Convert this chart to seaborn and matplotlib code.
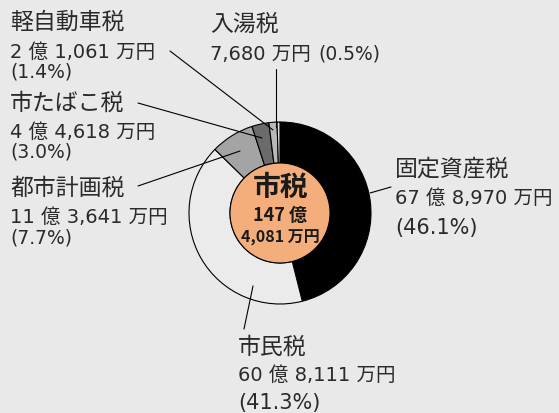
import matplotlib
matplotlib.use('Agg')
import matplotlib.pyplot as plt
import seaborn as sns
from matplotlib.patches import Circle

# ---- data ----
categories = ['固定資産税', '市民税', '都市計画税', '市たばこ税', '軽自動車税', '入湯税']
amounts_man = [678970, 608111, 113641, 44618, 21061, 7680]  # 万円
amount_labels = ['67 億 8,970 万円', '60 億 8,111 万円', '11 億 3,641 万円',
                 '4 億 4,618 万円', '2 億 1,061 万円', '7,680 万円']
percent_labels = ['(46.1%)', '(41.3%)', '(7.7%)', '(3.0%)', '(1.4%)', '(0.5%)']
total_title = '市税'
total_lines = ['147 億', '4,081 万円']

slice_colors = ['#000000', '#ebebeb', '#a4a4a4', '#6b6b6b', '#b9b9b9', '#dcdcdc']

sns.set_theme(style='white')
plt.rcParams['font.family'] = ['DejaVu Sans', 'Noto Sans CJK JP']

W, H = 559, 414
BG = '#e9e9e9'
TXT = '#2a2a2a'
FAM = ['DejaVu Sans', 'Noto Sans CJK JP']
CJK = ['Noto Sans CJK JP', 'DejaVu Sans']

fig = plt.figure(figsize=(W / 100, H / 100), dpi=100)
fig.patch.set_facecolor(BG)
ax = fig.add_axes([0, 0, 1, 1])


def Y(y):
    return H - y


cx, cy = 280, 214
ax.pie(amounts_man, colors=slice_colors, startangle=90, counterclock=False,
       radius=91, center=(cx, Y(cy)),
       wedgeprops=dict(width=41, edgecolor='black', linewidth=0.8))
ax.add_patch(Circle((cx, Y(cy)), 50, facecolor='#f4ae7b', edgecolor='black',
                    linewidth=0.8, zorder=3))
ax.set_xlim(0, W)
ax.set_ylim(0, H)
ax.set_aspect('equal')
ax.axis('off')

# center text
ax.text(cx, Y(188), total_title, ha='center', va='center', fontsize=20,
        fontweight='bold', color='#1a1a1a', family=CJK, zorder=4)
ax.text(cx, Y(215), total_lines[0], ha='center', va='center', fontsize=13,
        fontweight='bold', color='#1a1a1a', family=CJK, zorder=4)
ax.text(cx, Y(238), total_lines[1], ha='center', va='center', fontsize=11.5,
        fontweight='bold', color='#1a1a1a', family=CJK, zorder=4)

# label layout: (x, title_y, amount_y, pct_y, pct_size, leader)
layout = {
    0: (395, 169, 198, 228, 15, [(370, 194), (391, 188)]),
    1: (238, 347, 375, 403, 15, [(253, 287), (244, 330)]),
    2: (10, 188, 217, 238, 13.5, [(138, 187), (240, 152)]),
    3: (10, 103, 132, 152, 13.5, [(138, 104), (262, 139)]),
    4: (10, 22, 52, 72, 13.5, [(170, 52), (273, 131)]),
}
for i, (x, ty, ay, py, ps, lead) in layout.items():
    ax.text(x, Y(ty), categories[i], ha='left', va='center', fontsize=16.5,
            color=TXT, family=CJK)
    ax.text(x, Y(ay), amount_labels[i], ha='left', va='center', fontsize=14,
            color=TXT, family=FAM)
    ax.text(x, Y(py), percent_labels[i], ha='left', va='center', fontsize=ps,
            color=TXT, family=FAM)
    (x0, y0), (x1, y1) = lead
    ax.plot([x0, x1], [Y(y0), Y(y1)], color='black', lw=0.8, zorder=5)

# 入湯税 (amount and percent on one line)
ax.text(210, Y(24), categories[5], ha='left', va='center', fontsize=16.5,
        color=TXT, family=CJK)
ax.text(210, Y(54), amount_labels[5], ha='left', va='center', fontsize=14,
        color=TXT, family=FAM)
ax.text(318, Y(54), percent_labels[5], ha='left', va='center', fontsize=13.5,
        color=TXT, family=FAM)
ax.plot([276, 276], [Y(70), Y(128)], color='black', lw=0.8, zorder=5)

fig.savefig('out.png', dpi=100, facecolor=BG)
